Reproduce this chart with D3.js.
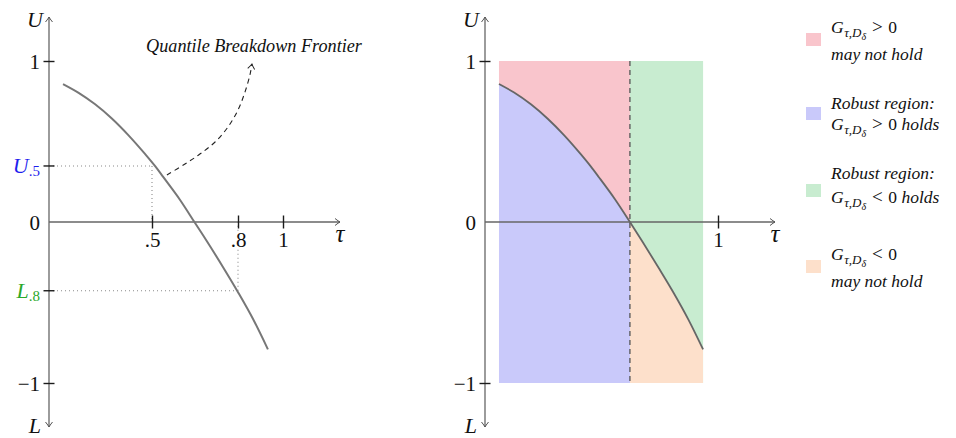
<!DOCTYPE html>
<html>
<head>
<meta charset="utf-8">
<script src="https://cdn.jsdelivr.net/npm/d3@7"></script>
<style>
  html, body { margin: 0; padding: 0; background: #fff; }
  svg { display: block; font-family: "Liberation Serif", "DejaVu Serif", serif; }
  text { white-space: pre; }
</style>
</head>
<body>
<svg id="chart" width="956" height="438"></svg>
<script>
// ---- data ---------------------------------------------------------------
// Breakdown frontier value at each sampled quantile
const frontierValues = [0.857, 0.804, 0.731, 0.643, 0.540, 0.423, 0.347, 0.280,
                        0.137, 0.0, -0.118, -0.284, -0.436, -0.606, -0.791];
// Same samples located on the left panel's (stretched) τ axis
const tauLeft  = [0.068, 0.142, 0.224, 0.305, 0.385, 0.466, 0.511, 0.539,
                  0.598, 0.648, 0.691, 0.749, 0.800, 0.868, 0.933];
// Same samples located on the right panel's τ axis
const tauRight = [0.060, 0.125, 0.197, 0.268, 0.339, 0.410, 0.453, 0.488,
                  0.560, 0.622, 0.674, 0.745, 0.808, 0.873, 0.936];

const yTickValues = [1, 0, -1];
const yTickLabels = ["1", "0", "\u22121"];
const leftTauTicks = [0.5, 0.8, 1];
const leftTauLabels = [".5", ".8", "1"];
const rightTauTicks = [1];
const rightTauLabels = ["1"];

const upperBound = 0.348;    // U_.5
const lowerBound = -0.427;   // L_.8
const breakdownTau = 0.622;  // where the frontier crosses zero

// Pointer from the label to the frontier (left-panel τ, value)
const pointerTau = [0.552, 0.615, 0.667, 0.720, 0.765, 0.800, 0.831, 0.853, 0.862];
const pointerVal = [0.292, 0.360, 0.422, 0.497, 0.590, 0.696, 0.807, 0.913, 0.981];

const legendColors = ["#f9c5cc", "#c9c9fa", "#c8ecd0", "#fde0cb"];
const legendTitles = ["@G > 0", "Robust region:", "Robust region:", "@G < 0"];
const legendNotes  = ["may not hold", "@G > 0 holds", "@G < 0 holds", "may not hold"];

// ---- layout --------------------------------------------------------------
const svg = d3.select("#chart");
const AXIS = "#666", TICK = "#1b1b1b", INK = "#111";
const y = d3.scaleLinear().domain([-1, 1]).range([383, 61]);
const xL = d3.scaleLinear().domain([0, 0.5, 0.8, 1]).range([49, 152, 238, 283]);
const xR = d3.scaleLinear().domain([0, 1]).range([485, 718]);

const defs = svg.append("defs");
function arrowMarker(id, color, orient) {
  defs.append("marker")
    .attr("id", id)
    .attr("viewBox", "-7 -5 9 10")
    .attr("refX", 0).attr("refY", 0)
    .attr("markerWidth", 9).attr("markerHeight", 10)
    .attr("markerUnits", "userSpaceOnUse")
    .attr("orient", orient)
    .append("path")
    .attr("d", "M-5,-3.5 Q-1.5,-0.7 0,0 Q-1.5,0.7 -5,3.5")
    .attr("fill", "none").attr("stroke", color).attr("stroke-width", 1);
}
arrowMarker("axArrow", "#555", "auto-start-reverse");
arrowMarker("ptrArrow", "#222", "auto");

const frontier = frontierValues.map((v, i) => ({ v, tl: tauLeft[i], tr: tauRight[i] }));

// Axes: a τ axis with an arrow and a vertical U/L axis with arrows at both ends
function drawAxes(g, x, tauTicks, tauLabels) {
  const x0 = x(0), xEnd = x(1) + 57;
  g.append("line").attr("x1", x0).attr("x2", xEnd).attr("y1", y(0)).attr("y2", y(0))
    .attr("stroke", AXIS).attr("stroke-width", 1.3).attr("marker-end", "url(#axArrow)");
  g.append("line").attr("x1", x0).attr("x2", x0).attr("y1", y(-1) + 44).attr("y2", y(1) - 44)
    .attr("stroke", AXIS).attr("stroke-width", 1.3)
    .attr("marker-start", "url(#axArrow)").attr("marker-end", "url(#axArrow)");

  const xa = g.append("g").attr("transform", `translate(0,${y(0)})`)
    .call(d3.axisBottom(x).tickValues(tauTicks).tickFormat((d, i) => tauLabels[i])
      .tickSize(6).tickPadding(4.5));
  xa.attr("font-family", null).attr("font-size", null);
  xa.select(".domain").remove();
  xa.selectAll(".tick line").attr("y1", -6.5).attr("y2", 6.5).attr("stroke", TICK).attr("stroke-width", 1.4);
  xa.selectAll(".tick text").attr("font-size", 21).attr("fill", INK)
    .attr("stroke", "#fff").attr("stroke-width", 5).attr("paint-order", "stroke");

  const ya = g.append("g").attr("transform", `translate(${x0},0)`)
    .call(d3.axisLeft(y).tickValues(yTickValues).tickFormat((d, i) => yTickLabels[i])
      .tickSize(6).tickPadding(3));
  ya.attr("font-family", null).attr("font-size", null);
  ya.select(".domain").remove();
  ya.selectAll(".tick line").attr("x1", -5.5).attr("x2", 5.5).attr("stroke", TICK).attr("stroke-width", 1.4)
    .attr("display", d => d === 0 ? "none" : null);
  ya.selectAll(".tick text").attr("font-size", 21).attr("fill", INK).attr("dy", "0.36em");

  g.append("text").attr("x", xEnd).attr("y", y(0) + 20).attr("text-anchor", "middle")
    .attr("font-size", 25).attr("font-style", "italic").attr("fill", INK).text("\u03c4");
  g.append("text").attr("x", x0 - 6).attr("y", 27).attr("text-anchor", "end")
    .attr("font-size", 22).attr("font-style", "italic").attr("fill", INK).text("U");
  g.append("text").attr("x", x0 - 8).attr("y", 433).attr("text-anchor", "end")
    .attr("font-size", 22).attr("font-style", "italic").attr("fill", INK).text("L");
}

const left = svg.append("g");
const lineL = d3.line().x(d => xL(d.tl)).y(d => y(d.v)).curve(d3.curveMonotoneX);

const guides = left.append("g").attr("stroke", "#8a8a8a").attr("stroke-width", 1.1)
  .attr("stroke-dasharray", "1 3").attr("fill", "none");
guides.append("line").attr("x1", xL(0)).attr("x2", xL(0.5)).attr("y1", y(upperBound)).attr("y2", y(upperBound));
guides.append("line").attr("x1", xL(0.5)).attr("x2", xL(0.5)).attr("y1", y(upperBound)).attr("y2", y(0));
guides.append("line").attr("x1", xL(0)).attr("x2", xL(0.8)).attr("y1", y(lowerBound)).attr("y2", y(lowerBound));
guides.append("line").attr("x1", xL(0.8)).attr("x2", xL(0.8)).attr("y1", y(lowerBound)).attr("y2", y(0));

drawAxes(left, xL, leftTauTicks, leftTauLabels);

// ticks for the two bounds on the vertical axis
[upperBound, lowerBound].forEach(v => {
  left.append("line").attr("x1", xL(0) - 5.5).attr("x2", xL(0) + 5.5).attr("y1", y(v)).attr("y2", y(v))
    .attr("stroke", TICK).attr("stroke-width", 1.4);
});
function boundLabel(v, letter, sub, color) {
  const t = left.append("text").attr("x", xL(0) - 9).attr("y", y(v) + 7.5)
    .attr("text-anchor", "end").attr("fill", color).attr("font-size", 22);
  t.append("tspan").attr("font-style", "italic").text(letter);
  t.append("tspan").attr("font-size", 15).attr("dy", 3).text(sub);
}
boundLabel(upperBound, "U", ".5", "#1f1fee");
boundLabel(lowerBound, "L", ".8", "#2aa82a");

left.append("path").datum(frontier).attr("d", lineL)
  .attr("fill", "none").attr("stroke", "#777").attr("stroke-width", 2);

// annotation pointing at the frontier
const ptr = pointerTau.map((t, i) => [xL(t), y(pointerVal[i])]);
left.append("path").attr("d", d3.line().curve(d3.curveCatmullRom)(ptr))
  .attr("fill", "none").attr("stroke", "#222").attr("stroke-width", 1.1)
  .attr("stroke-dasharray", "5 4").attr("marker-end", "url(#ptrArrow)");
left.append("text").attr("x", 254).attr("y", 52).attr("text-anchor", "middle")
  .attr("font-size", 18.2).attr("font-style", "italic").attr("fill", INK)
  .text("Quantile Breakdown Frontier");

// ---- right panel: regions split by the frontier and the zero crossing ------
const right = svg.append("g");
const tFirst = tauRight[0], tLast = tauRight[tauRight.length - 1];
defs.append("clipPath").attr("id", "clipLeftCol").append("rect")
  .attr("x", xR(tFirst)).attr("y", y(1)).attr("width", xR(breakdownTau) - xR(tFirst)).attr("height", y(-1) - y(1));
defs.append("clipPath").attr("id", "clipRightCol").append("rect")
  .attr("x", xR(breakdownTau)).attr("y", y(1)).attr("width", xR(tLast) - xR(breakdownTau)).attr("height", y(-1) - y(1));

const below = d3.area().x(d => xR(d.tr)).y0(y(-1)).y1(d => y(d.v)).curve(d3.curveMonotoneX);
const lineR = d3.line().x(d => xR(d.tr)).y(d => y(d.v)).curve(d3.curveMonotoneX);

right.append("rect").attr("x", xR(tFirst)).attr("y", y(1))
  .attr("width", xR(breakdownTau) - xR(tFirst)).attr("height", y(-1) - y(1)).attr("fill", legendColors[0]);
right.append("rect").attr("x", xR(breakdownTau)).attr("y", y(1))
  .attr("width", xR(tLast) - xR(breakdownTau)).attr("height", y(-1) - y(1)).attr("fill", legendColors[2]);
right.append("path").datum(frontier).attr("d", below).attr("fill", legendColors[1]).attr("clip-path", "url(#clipLeftCol)");
right.append("path").datum(frontier).attr("d", below).attr("fill", legendColors[3]).attr("clip-path", "url(#clipRightCol)");

right.append("line").attr("x1", xR(breakdownTau)).attr("x2", xR(breakdownTau)).attr("y1", y(1)).attr("y2", y(-1))
  .attr("stroke", "#555").attr("stroke-width", 1.3).attr("stroke-dasharray", "5 4");

drawAxes(right, xR, rightTauTicks, rightTauLabels);
right.append("path").datum(frontier).attr("d", lineR)
  .attr("fill", "none").attr("stroke", "#666").attr("stroke-width", 1.8);

// ---- legend ---------------------------------------------------------------
const legend = svg.append("g");
const LX = 831, FS = 17.5;
function legendLine(str, yb) {
  const t = legend.append("text").attr("x", LX).attr("y", yb).attr("font-size", FS).attr("fill", INK);
  if (str.startsWith("@G")) {
    t.append("tspan").attr("font-style", "italic").text("G");
    t.append("tspan").attr("font-style", "italic").attr("font-size", 13).attr("dy", 4).attr("dx", 0.5).text("\u03c4,D");
    t.append("tspan").attr("font-style", "italic").attr("font-size", 10).attr("dy", 2.5).text("\u03b4");
    const m = str.slice(2).match(/^ ([<>]) 0(.*)$/);
    t.append("tspan").attr("font-size", 19).attr("dy", -6.5).attr("dx", 6).text(m[1]);
    t.append("tspan").attr("dx", 5.5).text("0");
    if (m[2]) t.append("tspan").attr("font-style", "italic").text(m[2]);
  } else {
    t.attr("font-style", "italic").text(str);
  }
}
const rowBaseline = [33, 109, 179, 260];
const rowGap = [27, 21, 24, 27];
const swatchTop = [33, 107, 184, 260];
legendColors.forEach((c, i) => {
  legend.append("rect").attr("x", 806).attr("y", swatchTop[i])
    .attr("width", 15).attr("height", 13).attr("fill", c);
  legendLine(legendTitles[i], rowBaseline[i]);
  legendLine(legendNotes[i], rowBaseline[i] + rowGap[i]);
});
</script>
</body>
</html>
